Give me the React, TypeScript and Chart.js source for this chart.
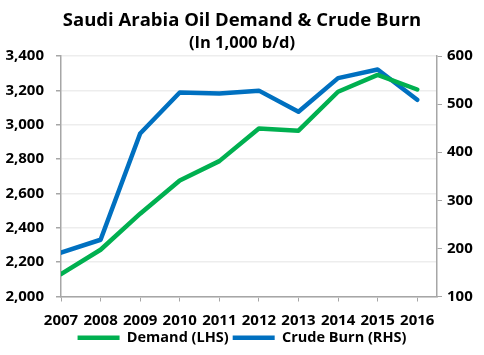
import React, { useEffect, useRef } from "react";
import { Chart, registerables } from "chart.js";

Chart.register(...registerables);

const years = [2007, 2008, 2009, 2010, 2011, 2012, 2013, 2014, 2015, 2016];
const demandLHS = [2130, 2272, 2482, 2675, 2788, 2978, 2965, 3192, 3290, 3205];
const crudeBurnRHS = [191, 218, 439, 524, 522, 528, 484, 554, 572, 509];

const titleText = "Saudi Arabia Oil Demand & Crude Burn";
const subtitleText = "(In 1,000 b/d)";
const demandLabel = "Demand (LHS)";
const burnLabel = "Crude Burn (RHS)";

const FONT = "'Open Sans', Lato, sans-serif";
const GREEN = "#00B050";
const BLUE = "#0070C0";
const AXIS = "#A6A6A6";
const GRID = "#EDEDED";

export default function App() {
  const ref = useRef<HTMLCanvasElement | null>(null);

  useEffect(() => {
    if (!ref.current) return;
    const chart = new Chart(ref.current, {
      type: "line",
      data: {
        datasets: [
          {
            label: demandLabel,
            data: years.map((y, i) => ({ x: y, y: demandLHS[i] })),
            borderColor: GREEN,
            backgroundColor: GREEN,
            borderWidth: 4.5,
            pointRadius: 0,
            tension: 0,
            borderJoinStyle: "round",
            borderCapStyle: "round",
            yAxisID: "yL",
          },
          {
            label: burnLabel,
            data: years.map((y, i) => ({ x: y, y: crudeBurnRHS[i] })),
            borderColor: BLUE,
            backgroundColor: BLUE,
            borderWidth: 4.5,
            pointRadius: 0,
            tension: 0,
            borderJoinStyle: "round",
            borderCapStyle: "round",
            yAxisID: "yR",
          },
        ],
      },
      options: {
        responsive: false,
        animation: false,
        layout: { padding: { left: 0, right: 0, top: 0, bottom: 0 } },
        plugins: {
          title: {
            display: true,
            text: titleText,
            color: "#000",
            font: { family: FONT, size: 18.5, weight: "bold" },
            padding: { top: 10, bottom: 0 },
          },
          subtitle: {
            display: true,
            text: subtitleText,
            color: "#000",
            font: { family: FONT, size: 16.5, weight: "bold" },
            padding: { top: 1, bottom: 3 },
          },
          legend: {
            display: true,
            position: "bottom",
            labels: {
              usePointStyle: true,
              pointStyle: "line",
              pointStyleWidth: 42,
              boxHeight: 14,
              color: "#000",
              font: { family: FONT, size: 14.5, weight: "bold" },
              padding: 4,
            },
          },
          tooltip: { enabled: false },
        },
        scales: {
          x: {
            type: "linear",
            min: 2007,
            max: 2016.5,
            ticks: {
              stepSize: 1,
              includeBounds: false,
              autoSkip: false,
              maxRotation: 0,
              color: "#000",
              font: { family: FONT, size: 15, weight: "bold" },
              padding: 10,
              callback: (v: any) => String(v),
            },
            grid: { drawOnChartArea: false, color: AXIS, tickLength: 5 },
            border: { color: AXIS, width: 1.5 },
            afterFit: (s: any) => {
              s.height = 30;
            },
          },
          yL: {
            type: "linear",
            position: "left",
            min: 2000,
            max: 3400,
            ticks: {
              stepSize: 200,
              color: "#000",
              font: { family: FONT, size: 15, weight: "bold" },
              padding: 12,
              callback: (v: any) => Number(v).toLocaleString("en-US"),
            },
            grid: { color: GRID, tickColor: AXIS, tickLength: 5, lineWidth: 1.5 },
            border: { color: AXIS, width: 1.5 },
            afterFit: (s: any) => {
              s.width = 61;
            },
          },
          yR: {
            type: "linear",
            position: "right",
            min: 100,
            max: 600,
            ticks: {
              stepSize: 100,
              color: "#000",
              font: { family: FONT, size: 15, weight: "bold" },
              padding: 5,
            },
            grid: { drawOnChartArea: false, color: AXIS, tickLength: 5 },
            border: { color: AXIS, width: 1.5 },
            afterFit: (s: any) => {
              s.width = 47;
            },
          },
        },
      },
    });
    return () => chart.destroy();
  }, []);

  return (
    <div style={{ position: "fixed", left: 0, top: 0, width: 484, height: 355, background: "#fff" }}>
      <canvas ref={ref} width={484} height={355} />
    </div>
  );
}
